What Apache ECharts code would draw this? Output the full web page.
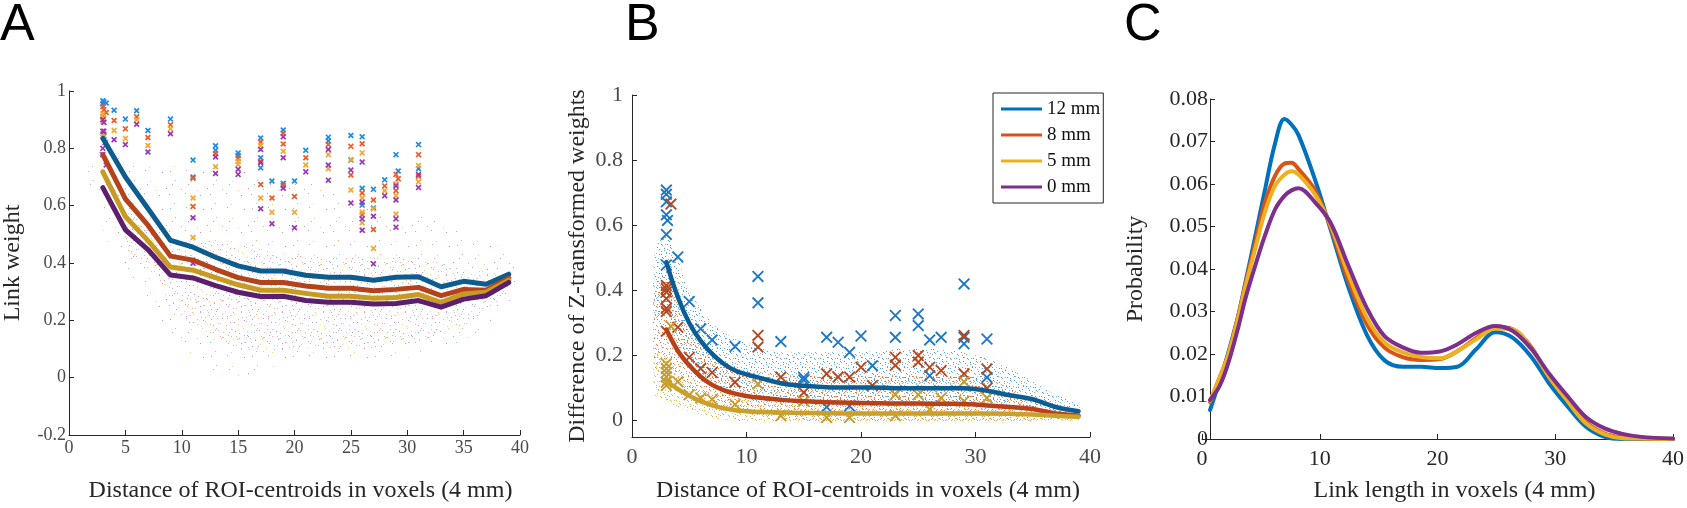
<!DOCTYPE html>
<html>
<head>
<meta charset="utf-8">
<script src="https://cdn.jsdelivr.net/npm/echarts@6/dist/echarts.min.js"></script>
<style>html,body{margin:0;padding:0;background:#fff}#c{width:1687px;height:508px}</style>
</head>
<body>
<div id="c"></div>
<script>
// ---------- Panel A data ----------
const aLineX = [3,5,7,9,11,13,15,17,19,21,23,25,27,29,31,33,35,37,39];
const aLine12 = [0.835,0.70,0.59,0.479,0.455,0.42,0.39,0.372,0.372,0.357,0.35,0.35,0.34,0.35,0.352,0.317,0.336,0.326,0.361];
const aLine8  = [0.778,0.624,0.532,0.424,0.41,0.378,0.349,0.332,0.332,0.32,0.312,0.312,0.303,0.308,0.315,0.286,0.308,0.305,0.347];
const aLine5  = [0.718,0.562,0.478,0.386,0.375,0.349,0.324,0.305,0.305,0.294,0.284,0.284,0.277,0.28,0.29,0.263,0.292,0.298,0.34];
const aLine0  = [0.663,0.516,0.447,0.358,0.348,0.321,0.298,0.283,0.284,0.269,0.263,0.263,0.257,0.259,0.269,0.246,0.274,0.286,0.332];

const aMark12 = [[3,0.966],[3.1,0.962],[3.3,0.958],[3,0.955],[3.1,0.842],[4,0.933],[5,0.902],[6,0.931],[7,0.862],[9,0.902],[11,0.759],[11,0.70],[13,0.809],[13,0.793],[15,0.784],[15,0.775],[17,0.836],[17,0.767],[17,0.732],[18,0.686],[19,0.864],[19,0.678],[20,0.686],[21,0.793],[23,0.839],[23,0.826],[25,0.845],[25,0.759],[26,0.84],[26,0.661],[26,0.602],[27,0.657],[27,0.592],[28,0.69],[29,0.778],[29.2,0.721],[29,0.675],[31,0.813],[31,0.729]];
const aMark8 = [[3,0.945],[3.1,0.935],[3.3,0.925],[3,0.91],[4,0.897],[5,0.868],[6,0.91],[7,0.838],[9,0.882],[11,0.696],[11,0.597],[13,0.782],[15,0.765],[17,0.822],[17,0.755],[17,0.674],[18,0.627],[19,0.853],[19,0.815],[19,0.671],[20,0.632],[21,0.767],[23,0.813],[25,0.807],[25,0.707],[26,0.816],[26,0.644],[26,0.568],[27,0.62],[27,0.517],[28,0.669],[29,0.709],[29.2,0.694],[29,0.652],[31,0.778],[31,0.703]];
const aMark5 = [[3,0.92],[3.1,0.905],[3,0.893],[3,0.852],[3.1,0.845],[4,0.862],[5,0.834],[6,0.9],[7,0.81],[9,0.868],[11,0.627],[11,0.489],[13,0.736],[15,0.755],[15,0.744],[17,0.81],[17,0.627],[18,0.577],[19,0.79],[20,0.577],[21,0.742],[23,0.778],[23,0.729],[25,0.761],[25,0.655],[26,0.784],[26,0.627],[26,0.577],[26,0.54],[27,0.589],[27,0.451],[28,0.652],[29,0.675],[29,0.635],[29,0.571],[31,0.74],[31,0.683]];
const aMark0 = [[3,0.9],[3.1,0.89],[3,0.86],[3.1,0.86],[3.2,0.82],[3,0.8],[3,0.778],[3.3,0.742],[4,0.83],[5,0.813],[6,0.884],[7,0.787],[9,0.851],[11,0.558],[11,0.399],[13,0.77],[13,0.712],[15,0.727],[15,0.709],[17,0.796],[17,0.75],[17,0.589],[18,0.537],[19,0.84],[19,0.767],[19,0.661],[20,0.523],[21,0.718],[23,0.796],[23,0.742],[23,0.689],[25,0.724],[25,0.609],[26,0.752],[26,0.612],[26,0.554],[26,0.514],[27,0.563],[27,0.397],[28,0.635],[29,0.669],[29,0.62],[29,0.554],[29,0.525],[31,0.709],[31,0.663]];

// scatter-cloud envelopes (panel A)
const aCloudX  = [1.5,2,3,4,5,7,9,11,13,15,17,20,23,25,27,30,33,35,37,39.5];
const aCloudHi = [0.72,0.78,0.84,0.8,0.76,0.74,0.74,0.72,0.72,0.72,0.71,0.69,0.66,0.63,0.6,0.58,0.54,0.5,0.48,0.42];
const aCloudLo = [0.7,0.66,0.52,0.42,0.36,0.26,0.14,0.06,0.02,0.0,0.02,0.05,0.06,0.06,0.06,0.07,0.1,0.13,0.18,0.28];
const aCoreX  = [5,7,9,11,13,15,17,20,23,25,27,30,33,35,37,39];
const aCoreHi = [0.6,0.54,0.48,0.48,0.48,0.46,0.45,0.43,0.42,0.42,0.42,0.42,0.4,0.38,0.37,0.35];
const aCoreLo = [0.45,0.38,0.26,0.18,0.13,0.1,0.09,0.1,0.1,0.1,0.1,0.12,0.15,0.18,0.24,0.3];

// ---------- Panel B data ----------
const bLineX = [3,4,5,6,7,8,9,10,11,13,15,17,19,21,23,25,27,29,31,33,35,37,39];
const bLine12 = [0.487,0.38,0.30,0.245,0.205,0.175,0.154,0.142,0.133,0.115,0.107,0.103,0.102,0.102,0.1,0.1,0.1,0.1,0.092,0.078,0.066,0.042,0.029];
const bLine8  = [0.28,0.215,0.17,0.135,0.11,0.094,0.083,0.076,0.071,0.064,0.06,0.057,0.055,0.054,0.053,0.053,0.052,0.051,0.047,0.042,0.036,0.022,0.016];
const bLine5  = [0.123,0.097,0.077,0.06,0.047,0.038,0.032,0.029,0.027,0.025,0.024,0.023,0.022,0.022,0.022,0.022,0.022,0.022,0.022,0.021,0.019,0.015,0.012];

const bMark12 = [[3,0.708],[3,0.695],[3,0.672],[3,0.632],[3.1,0.615],[3,0.572],[3,0.478],[4,0.503],[5,0.366],[6,0.282],[7,0.248],[9,0.228],[11,0.443],[11,0.362],[13,0.243],[15,0.133],[15,0.125],[17,0.256],[17,0.042],[18,0.241],[19,0.21],[19,0.045],[20,0.26],[21,0.169],[23,0.323],[23,0.256],[25,0.328],[25,0.292],[26,0.248],[26,0.138],[27,0.256],[29,0.42],[29,0.256],[29,0.236],[31,0.251],[31,0.133]];
const bMark8 = [[3.4,0.665],[3,0.415],[3,0.405],[3,0.395],[3,0.375],[3,0.345],[3,0.335],[3,0.275],[4,0.287],[5,0.195],[6,0.16],[7,0.148],[9,0.118],[11,0.262],[11,0.226],[13,0.134],[15,0.087],[17,0.144],[18,0.134],[19,0.134],[20,0.164],[21,0.108],[23,0.195],[23,0.17],[25,0.2],[25,0.18],[26,0.164],[27,0.154],[29,0.262],[29,0.144],[31,0.159],[31,0.1]];
const bMark5 = [[3,0.175],[3,0.16],[3,0.148],[3,0.135],[3,0.118],[3,0.108],[3.4,0.29],[4,0.12],[5,0.08],[6,0.07],[7,0.065],[9,0.05],[11,0.113],[13,0.015],[15,0.06],[17,0.01],[19,0.01],[23,0.015],[23,0.08],[25,0.08],[26,0.035],[27,0.07],[29,0.12],[29,0.06],[31,0.07]];

const bCloudX = [2,3,4,5,7,9,11,13,15,17,20,23,25,27,29,31,33,35,37,39];
const bCloud12Hi = [0.52,0.58,0.5,0.4,0.3,0.25,0.23,0.21,0.21,0.21,0.21,0.22,0.22,0.22,0.21,0.19,0.16,0.12,0.08,0.05];
const bCloud12Lo = [0.3,0.35,0.25,0.18,0.12,0.08,0.06,0.05,0.05,0.05,0.05,0.05,0.05,0.05,0.05,0.05,0.04,0.03,0.02,0.015];
const bCloud8Hi = [0.42,0.45,0.36,0.28,0.2,0.16,0.15,0.14,0.14,0.14,0.14,0.14,0.14,0.14,0.14,0.13,0.1,0.07,0.04,0.03];
const bCloud8Lo = [0.16,0.18,0.12,0.09,0.05,0.03,0.02,0.01,0.0,0.0,0.0,0.0,0.0,0.0,0.0,0.0,0.0,0.0,0.005,0.005];
const bCloud5Hi = [0.22,0.2,0.16,0.12,0.09,0.07,0.06,0.055,0.05,0.05,0.05,0.05,0.05,0.05,0.05,0.045,0.04,0.03,0.025,0.02];
const bCloud5Lo = [0.08,0.06,0.04,0.03,0.01,0.0,-0.005,-0.005,-0.005,-0.005,-0.005,-0.005,-0.005,-0.005,-0.005,-0.005,-0.005,0,0,0];

// ---------- Panel C data ----------
const cX = [0.68,1.5,2.2,3.1,3.7,4.6,5.3,6.2,7.0,7.6,8.2,9.6,10.9,12.4,14,15.5,17.1,18.6,20.2,21.7,23.3,24.9,26.4,28,29.5,31.1,32.6,34.2,35.7,37.3,40];
const c12 = [0.0068,0.0137,0.02,0.0293,0.037,0.0487,0.058,0.0695,0.0753,0.074,0.0715,0.061,0.0495,0.036,0.0245,0.0185,0.017,0.017,0.0167,0.017,0.0212,0.0251,0.0238,0.0192,0.013,0.0075,0.0029,0.0005,0,0,0];
const c8  = [0.0087,0.0145,0.0195,0.0292,0.0365,0.047,0.0552,0.0619,0.0648,0.065,0.0635,0.0585,0.05,0.0375,0.027,0.0215,0.0192,0.0186,0.0188,0.0207,0.0238,0.0264,0.0258,0.0215,0.0145,0.0091,0.004,0.0013,0.0004,0.0001,0];
const c5  = [0.009,0.0145,0.0195,0.0288,0.036,0.0456,0.053,0.0596,0.0622,0.063,0.0622,0.0575,0.0505,0.039,0.0285,0.0227,0.0203,0.0193,0.019,0.0207,0.0235,0.026,0.0258,0.0211,0.0145,0.0087,0.0037,0.0011,0.0002,0.0001,0];
const c0  = [0.0092,0.0125,0.0176,0.0265,0.0332,0.0415,0.0475,0.054,0.0572,0.0585,0.059,0.0557,0.051,0.041,0.0308,0.0242,0.0215,0.0203,0.0206,0.0223,0.025,0.0266,0.0254,0.0211,0.0153,0.0099,0.0052,0.0025,0.0012,0.0005,0.0001];

const legendNames = ['12 mm','8 mm','5 mm','0 mm'];

// ---------- styling ----------
const FONT = "'Liberation Serif','Times New Roman',serif";
const AX = '#262626';
const LAB = '#4a4a4a';
const pair = (xs, ys) => xs.map((x, i) => [x, ys[i]]);

// speckle textures for the scatter clouds (fill style only)
function tile(w0, h0, dots, colors, alpha, w, h) {
  const cv = document.createElement('canvas');
  cv.width = w0; cv.height = h0;
  const g = cv.getContext('2d');
  g.globalAlpha = alpha;
  dots.forEach((d, i) => { g.fillStyle = colors[i % colors.length]; g.fillRect(d[0] % w0, d[1] % h0, w, h); });
  return { image: cv, repeat: 'repeat' };
}
const DOTS = [[2,3],[9,1],[17,4],[25,2],[33,5],[38,1],[5,9],[13,11],[21,8],[29,12],[36,10],[1,16],[10,18],[18,15],[26,19],[34,17],[6,23],[14,25],[22,22],[30,26],[39,24],[3,30],[11,32],[19,29],[27,33],[35,31],[8,36],[16,35],[24,36],[32,35]];
const sparse = DOTS.filter((d, i) => i % 2 === 0);
const DOTS_B = [[1,1],[6,3],[11,0],[15,4],[3,6],[8,8],[13,7],[0,11],[5,12],[10,13],[16,10],[2,16],[7,17],[12,15],[15,16],[4,2]];
const denseB = DOTS_B.concat(DOTS_B.map(d => [d[0] + 8, d[1] + 9]));
const texA  = tile(41, 37, sparse, ['#a040b0','#f07a30','#f0b030','#3a8ee0','#c050b0'], 0.6, 1, 1);
const texA2 = tile(41, 37, DOTS.map(d => [d[0] + 7, d[1] + 4]).concat(DOTS.map(d => [d[0] + 20, d[1] + 17])), ['#9a3aac','#f0b030','#f07a30','#b050c0','#e070a0','#5a9ae0'], 0.55, 1, 1);
const texB12 = tile(17, 19, denseB, ['#2e8ad8','#5aa5e4'], 0.85, 1, 1);
const texB8  = tile(17, 19, denseB.map(d => [d[0] + 5, d[1] + 9]), ['#e8602a','#f07a3a'], 0.85, 1, 1);
const texB5  = tile(17, 19, denseB.map(d => [d[0] + 9, d[1] + 4]), ['#e8ac2a','#d8a030'], 0.85, 1, 1);

function band(gi, xs, lo, hi, fill, z) {
  return {
    type: 'custom', xAxisIndex: gi, yAxisIndex: gi, data: [[xs[0], lo[0]]], silent: true, z: z, clip: true,
    renderItem: function (params, api) {
      const pts = [];
      for (let i = 0; i < xs.length; i++) pts.push(api.coord([xs[i], hi[i]]));
      for (let i = xs.length - 1; i >= 0; i--) pts.push(api.coord([xs[i], lo[i]]));
      return { type: 'polygon', shape: { points: pts, smooth: 0.25 }, style: { fill: fill, stroke: null } };
    }
  };
}

const XA = 'path://M0,2L2,0L10,8L8,10Z M8,0L10,2L2,10L0,8Z';
const XB = 'path://M0,1.1L1.1,0L10,8.9L8.9,10Z M8.9,0L10,1.1L1.1,10L0,8.9Z';

function marks(gi, name, data, color, sym, size) {
  return { type: 'scatter', name: name, xAxisIndex: gi, yAxisIndex: gi, data: data, symbol: sym, symbolSize: size,
    itemStyle: { color: color, opacity: 1 }, z: 4, silent: true };
}
function line(gi, name, data, color, width, smooth, z) {
  return { type: 'line', name: name, xAxisIndex: gi, yAxisIndex: gi, data: data, showSymbol: false, symbol: 'none',
    smooth: smooth, lineStyle: { color: color, width: width, cap: 'round', join: 'round' }, itemStyle: { color: color },
    z: z || 5, silent: true, animation: false };
}

function xAxisCfg(gi, name, interval, labelSize, margin, nameGap, nameSize, labColor, namePad) {
  return { gridIndex: gi, type: 'value', min: 0, max: 40, interval: interval,
    axisLine: { show: true, onZero: false, lineStyle: { color: AX, width: 1 } },
    axisTick: { show: true, inside: true, length: 5, lineStyle: { color: AX } },
    splitLine: { show: false },
    axisLabel: { color: labColor, fontFamily: FONT, fontSize: labelSize, margin: margin },
    name: name, nameLocation: 'middle', nameGap: nameGap,
    nameTextStyle: { fontFamily: FONT, fontSize: nameSize, color: '#262626', padding: namePad || 0 } };
}

const LETTER = { fontFamily: "'Liberation Sans',Arial,sans-serif", fontSize: 52, fontWeight: 'normal', color: '#000' };

const option = {
  animation: false,
  backgroundColor: '#fff',
  title: [
    { text: 'A', left: 0, top: 0, padding: 0, textStyle: LETTER },
    { text: 'B', left: 625, top: 0, padding: 0, textStyle: LETTER },
    { text: 'C', left: 1124, top: 0, padding: 0, textStyle: LETTER }
  ],
  grid: [
    { left: 64, top: 91, width: 456, height: 348, containLabel: false },
    { left: 632, top: 95, width: 458, height: 342, containLabel: false },
    { left: 1202, top: 99, width: 474, height: 343, containLabel: false }
  ],
  legend: {
    show: true, orient: 'vertical', left: 993, top: 93, padding: [6, 3, 6, 8], itemGap: 6,
    itemWidth: 41, itemHeight: 3, icon: 'rect', selectedMode: false,
    borderColor: '#262626', borderWidth: 1, borderRadius: 0, backgroundColor: '#fff',
    textStyle: { fontFamily: FONT, fontSize: 19, color: '#111', lineHeight: 20 },
    data: [
      { name: legendNames[0], itemStyle: { color: '#0072BD' } },
      { name: legendNames[1], itemStyle: { color: '#D95319' } },
      { name: legendNames[2], itemStyle: { color: '#EDB120' } },
      { name: legendNames[3], itemStyle: { color: '#7E2F8E' } }
    ]
  },
  xAxis: [
    xAxisCfg(0, 'Distance of ROI-centroids in voxels (4 mm)', 5, 18, 4, 44, 24, LAB, [0, 0, 0, 12]),
    xAxisCfg(1, 'Distance of ROI-centroids in voxels (4 mm)', 10, 22, 9, 42, 24, LAB, [0, 0, 0, 14]),
    xAxisCfg(2, 'Link length in voxels (4 mm)', 10, 22, 9, 40, 24, '#262626', [0, 0, 0, 34])
  ],
  yAxis: [
    { gridIndex: 0, type: 'value', min: -0.2, max: 1, interval: 0.2,
      axisLine: { show: true, onZero: false, lineStyle: { color: AX } },
      axisTick: { show: true, inside: true, length: 5, lineStyle: { color: AX } },
      splitLine: { show: false },
      axisLabel: { color: LAB, fontFamily: FONT, fontSize: 18, margin: 3 },
      name: 'Link weight', nameLocation: 'middle', nameGap: 44, nameRotate: 90,
      nameTextStyle: { fontFamily: FONT, fontSize: 24, color: '#262626' } },
    { gridIndex: 1, type: 'value', min: -0.05, max: 1,
      axisLine: { show: true, onZero: false, lineStyle: { color: AX } },
      axisTick: { show: true, inside: true, length: 5, lineStyle: { color: AX }, customValues: [0, 0.2, 0.4, 0.6, 0.8, 1] },
      splitLine: { show: false },
      axisLabel: { color: LAB, fontFamily: FONT, fontSize: 22, margin: 9, customValues: [0, 0.2, 0.4, 0.6, 0.8, 1] },
      name: 'Difference of Z-transformed weights', nameLocation: 'middle', nameGap: 42, nameRotate: 90,
      nameTextStyle: { fontFamily: FONT, fontSize: 24, color: '#262626' } },
    { gridIndex: 2, type: 'value', min: 0, max: 0.08, interval: 0.01, offset: -8,
      axisLine: { show: true, onZero: false, lineStyle: { color: AX } },
      axisTick: { show: true, inside: true, length: 5, lineStyle: { color: AX } },
      splitLine: { show: false },
      axisLabel: { color: '#262626', fontFamily: FONT, fontSize: 22, margin: 2 },
      name: 'Probability', nameLocation: 'middle', nameGap: 62, nameRotate: 90,
      nameTextStyle: { fontFamily: FONT, fontSize: 24, color: '#262626' } }
  ],
  series: [
    // Panel A
    band(0, aCloudX, aCloudLo, aCloudHi, texA, 1),
    band(0, aCoreX, aCoreLo, aCoreHi, texA2, 1),
    line(0, 'A 12', pair(aLineX, aLine12), '#0d5c8f', 5, false),
    line(0, 'A 8', pair(aLineX, aLine8), '#b4431b', 5, false),
    line(0, 'A 5', pair(aLineX, aLine5), '#c89a22', 5, false),
    line(0, 'A 0', pair(aLineX, aLine0), '#5c1f6e', 5, false),
    marks(0, 'Am12', aMark12, '#1a8ce8', XA, 6),
    marks(0, 'Am8', aMark8, '#f05a23', XA, 6),
    marks(0, 'Am5', aMark5, '#f2a830', XA, 6),
    marks(0, 'Am0', aMark0, '#9b35b5', XA, 6),
    // Panel B
    band(1, bCloudX, bCloud12Lo, bCloud12Hi, texB12, 1),
    band(1, bCloudX, bCloud8Lo, bCloud8Hi, texB8, 1),
    band(1, bCloudX, bCloud5Lo, bCloud5Hi, texB5, 1),
    marks(1, 'Bm12', bMark12, '#1f78c2', XB, 12),
    marks(1, 'Bm8', bMark8, '#b5481e', XB, 12),
    marks(1, 'Bm5', bMark5, '#c49d2b', XB, 12),
    line(1, legendNames[0], pair(bLineX, bLine12), '#0b5d94', 4.5, 0.4),
    line(1, legendNames[1], pair(bLineX, bLine8), '#b8401a', 4.5, 0.4),
    line(1, legendNames[2], pair(bLineX, bLine5), '#c8a02a', 4.5, 0.4),
    line(1, legendNames[3], [], '#7E2F8E', 4.5, 0.4),
    // Panel C
    line(2, 'C 12', pair(cX, c12), '#0072BD', 4, 0.35),
    line(2, 'C 8', pair(cX, c8), '#D95319', 4, 0.35),
    line(2, 'C 5', pair(cX, c5), '#EDB120', 4, 0.35),
    line(2, 'C 0', pair(cX, c0), '#7E2F8E', 4, 0.35)
  ]
};

const chart = echarts.init(document.getElementById('c'), null, { renderer: 'canvas' });
chart.setOption(option);
</script>
</body>
</html>
